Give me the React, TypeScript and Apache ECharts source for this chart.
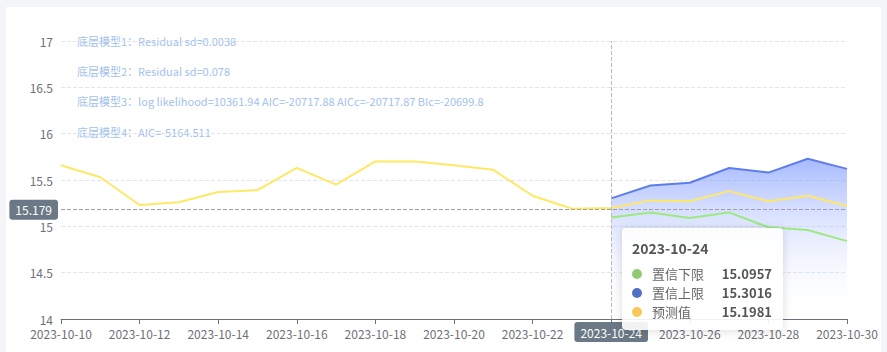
import React, { useEffect, useRef } from "react";
import * as echarts from "echarts";

const categories = [
  "2023-10-10", "2023-10-11", "2023-10-12", "2023-10-13", "2023-10-14", "2023-10-15", "2023-10-16",
  "2023-10-17", "2023-10-18", "2023-10-19", "2023-10-20", "2023-10-21", "2023-10-22", "2023-10-23",
  "2023-10-24", "2023-10-25", "2023-10-26", "2023-10-27", "2023-10-28", "2023-10-29", "2023-10-30",
];
const forecastValues = [
  15.66, 15.53, 15.23, 15.26, 15.37, 15.39, 15.63, 15.45, 15.7, 15.7, 15.66, 15.61, 15.33, 15.19,
  15.1981, 15.28, 15.27, 15.38, 15.27, 15.33, 15.22,
];
const lowerValues = [
  null, null, null, null, null, null, null, null, null, null, null, null, null, null,
  15.0957, 15.15, 15.09, 15.15, 14.99, 14.96, 14.84,
];
const upperValues = [
  null, null, null, null, null, null, null, null, null, null, null, null, null, null,
  15.3016, 15.44, 15.47, 15.63, 15.58, 15.73, 15.62,
];
const seriesNames = ["置信下限", "置信上限", "预测值"];
const annotations = [
  "底层模型1：Residual sd=0.0038",
  "底层模型2：Residual sd=0.078",
  "底层模型3：log likelihood=10361.94 AIC=-20717.88 AICc=-20717.87 BIc=-20699.8",
  "底层模型4：AIC=-5164.511",
];
const yTicks = { min: 14, max: 17, interval: 0.5 };
const tipDate = "2023-10-24";
const pointerValue = 15.179;

const FONT = "'Noto Sans CJK SC', 'Noto Sans', sans-serif";

export default function App() {
  const ref = useRef<HTMLDivElement>(null);
  useEffect(() => {
    if (!ref.current) return;
    const chart = echarts.init(ref.current, null, { renderer: "svg" });
    const colors: Record<string, string> = {
      [seriesNames[0]]: "#91cc75",
      [seriesNames[1]]: "#5470c6",
      [seriesNames[2]]: "#fac858",
    };
    const option: any = {
      animation: false,
      textStyle: { fontFamily: FONT },
      grid: { left: 55, right: 34, top: 34, bottom: 33 },
      tooltip: {
        trigger: "axis",
        transitionDuration: 0,
        padding: [12, 11, 9, 10],
        backgroundColor: "rgba(255,255,255,0.9)",
        borderWidth: 0,
        extraCssText: "box-shadow: 0 1px 10px rgba(0,0,0,0.14); border-radius: 4px;",
        position: (pt: number[]) => [pt[0] + 11, pt[1] + 18],
        axisPointer: {
          type: "cross",
          label: {
            backgroundColor: "#6a7985",
            fontFamily: FONT,
            padding: [4, 6, 4, 6],
            formatter: (p: any) =>
              p.axisDimension === "y" ? Number(p.value).toFixed(3) : String(p.value),
          },
        },
        formatter: (params: any[]) => {
          const title = params.length ? params[0].axisValue : "";
          let html = `<div style="font-family:${FONT};width:140px;line-height:1;">`;
          html += `<div style="font-size:14px;font-weight:bold;color:#555;line-height:16px;margin-bottom:8px;">${title}</div>`;
          for (const name of seriesNames) {
            const p = params.find((q: any) => q.seriesName === name);
            if (!p || p.value == null) continue;
            html += `<div style="display:flex;align-items:center;height:19px;font-size:13px;color:#666;">` +
              `<span style="display:inline-block;width:10px;height:10px;border-radius:5px;background:${colors[name]};margin-right:10px;"></span>` +
              `<span style="flex:1;">${name}</span>` +
              `<span style="font-weight:bold;color:#555;">${p.value}</span></div>`;
          }
          html += `</div>`;
          return html;
        },
      },
      xAxis: {
        type: "category",
        data: categories,
        boundaryGap: false,
        axisLine: { lineStyle: { color: "#6e7079" } },
        axisTick: { interval: 1 },
        axisLabel: { interval: 1, color: "#6e7079", fontSize: 12 },
      },
      yAxis: {
        type: "value",
        min: yTicks.min,
        max: yTicks.max,
        interval: yTicks.interval,
        axisLabel: { color: "#6e7079", fontSize: 12 },
        splitLine: { lineStyle: { type: "dashed", color: "#e0e6f1" } },
      },
      graphic: annotations.map((t, i) => ({
        type: "text",
        left: 71,
        top: [28, 58, 88, 119][i],
        style: { text: t, fill: "#a3c1ee", fontSize: 11, fontFamily: FONT },
        silent: true,
      })),
      series: [
        {
          name: seriesNames[1],
          type: "line",
          data: upperValues,
          symbol: "none",
          color: colors[seriesNames[1]],
          lineStyle: { width: 2, color: "#5572d6" },
          areaStyle: {
            color: new echarts.graphic.LinearGradient(0, 0, 0, 1, [
              { offset: 0, color: "rgba(88,119,247,0.8)" },
              { offset: 1, color: "rgba(255,255,255,0)" },
            ]),
          },
        },
        {
          name: seriesNames[0],
          type: "line",
          data: lowerValues,
          symbol: "none",
          color: colors[seriesNames[0]],
          lineStyle: { width: 2, color: "#8fd474" },
        },
        {
          name: seriesNames[2],
          type: "line",
          data: forecastValues,
          symbol: "none",
          color: colors[seriesNames[2]],
          lineStyle: { width: 2, color: "#fcd35c" },
        },
      ],
    };
    chart.setOption(option);
    const pt = chart.convertToPixel({ gridIndex: 0 }, [categories.indexOf(tipDate), pointerValue]) as number[];
    chart.dispatchAction({ type: "showTip", x: pt[0], y: pt[1] });
    return () => chart.dispose();
  }, []);
  return (
    <div style={{ position: "fixed", inset: 0, background: "#f4f5f9" }}>
      <div
        ref={ref}
        style={{ position: "absolute", left: 6, top: 7, width: 875, height: 345, background: "#fff" }}
      />
    </div>
  );
}
